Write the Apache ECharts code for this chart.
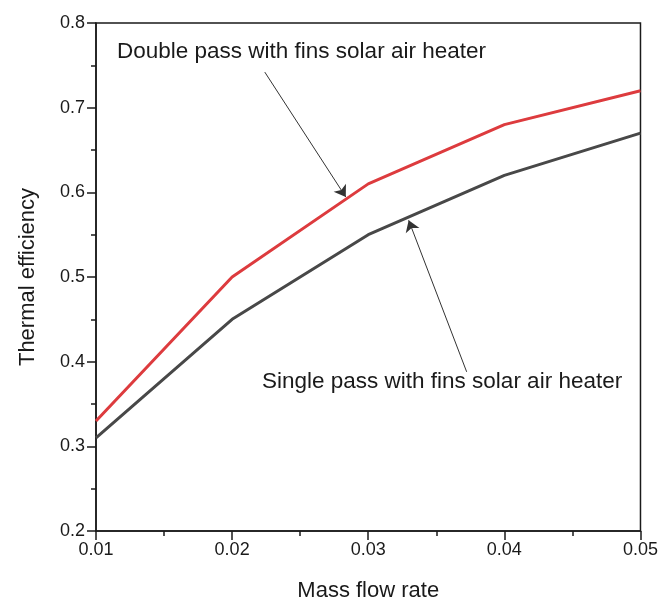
<!DOCTYPE html>
<html>
<head>
<meta charset="utf-8">
<script src="https://cdn.jsdelivr.net/npm/echarts@6/dist/echarts.min.js"></script>
<style>
html,body{margin:0;padding:0;background:#fff;}
#chart{width:661px;height:608px;}
</style>
</head>
<body>
<div id="chart"></div>
<script>
var massFlow = [0.01, 0.02, 0.03, 0.04, 0.05];
var doublePass = [0.33, 0.50, 0.61, 0.68, 0.72];
var singlePass = [0.31, 0.45, 0.55, 0.62, 0.67];
var xTicks = ['0.01', '0.02', '0.03', '0.04', '0.05'];
var yTicks = ['0.2', '0.3', '0.4', '0.5', '0.6', '0.7', '0.8'];
var doubleLabel = 'Double pass with fins solar air heater';
var singleLabel = 'Single pass with fins solar air heater';
var doubleArrow = [[0.0224, 0.742], [0.02835, 0.5945]];
var singleArrow = [[0.03723, 0.388], [0.03297, 0.567]];

var FONT = '"Liberation Sans", Arial, sans-serif';
var chart = echarts.init(document.getElementById('chart'), null, {renderer: 'canvas'});

function arrowLine(pts) {
  return {
    silent: true,
    symbol: ['none', 'arrow'],
    symbolSize: 11,
    label: {show: false},
    lineStyle: {color: '#333', width: 1, type: 'solid'},
    itemStyle: {color: '#111'},
    emphasis: {disabled: true},
    animation: false,
    data: [[{coord: pts[0]}, {coord: pts[1]}]]
  };
}

chart.setOption({
  animation: false,
  backgroundColor: '#fff',
  grid: {left: 96, right: 20, top: 23, bottom: 77, show: true, borderColor: '#1a1a1a', borderWidth: 1.5, containLabel: false},
  xAxis: {
    type: 'value', min: 0.01, max: 0.05, interval: 0.01,
    name: 'Mass flow rate', nameLocation: 'middle', nameGap: 49,
    nameTextStyle: {fontFamily: FONT, fontSize: 22, color: '#1a1a1a'},
    axisLine: {show: true, lineStyle: {color: '#1a1a1a', width: 1.5}},
    axisTick: {show: true, inside: false, length: 9, lineStyle: {color: '#1a1a1a', width: 1.5}},
    minorTick: {show: true, splitNumber: 2, length: 5, lineStyle: {color: '#1a1a1a', width: 1.5}},
    splitLine: {show: false},
    axisLabel: {fontFamily: FONT, fontSize: 18, color: '#1a1a1a', margin: 10,
      formatter: function (v) { var i = Math.round((v - 0.01) / 0.01); return xTicks[i] !== undefined ? xTicks[i] : ''; }}
  },
  yAxis: {
    type: 'value', min: 0.2, max: 0.8, interval: 0.1,
    name: 'Thermal efficiency', nameLocation: 'middle', nameGap: 57, nameRotate: 90,
    nameTextStyle: {fontFamily: FONT, fontSize: 22, color: '#1a1a1a'},
    axisLine: {show: true, lineStyle: {color: '#1a1a1a', width: 1.5}},
    axisTick: {show: true, inside: false, length: 9, lineStyle: {color: '#1a1a1a', width: 1.5}},
    minorTick: {show: true, splitNumber: 2, length: 5, lineStyle: {color: '#1a1a1a', width: 1.5}},
    splitLine: {show: false},
    axisLabel: {fontFamily: FONT, fontSize: 18, color: '#1a1a1a', margin: 11,
      formatter: function (v) { var i = Math.round((v - 0.2) / 0.1); return yTicks[i] !== undefined ? yTicks[i] : ''; }}
  },
  series: [
    {
      name: 'Double pass', type: 'line', showSymbol: false, symbol: 'none',
      data: massFlow.map(function (x, i) { return [x, doublePass[i]]; }),
      lineStyle: {color: '#dd3b3e', width: 3}, itemStyle: {color: '#dd3b3e'},
      markLine: arrowLine(doubleArrow), z: 3
    },
    {
      name: 'Single pass', type: 'line', showSymbol: false, symbol: 'none',
      data: massFlow.map(function (x, i) { return [x, singlePass[i]]; }),
      lineStyle: {color: '#484848', width: 3}, itemStyle: {color: '#484848'},
      markLine: arrowLine(singleArrow), z: 3
    }
  ],
  graphic: [
    {type: 'text', left: 117, top: 40, silent: true,
      style: {text: doubleLabel, font: '22.5px ' + FONT, fill: '#1a1a1a'}},
    {type: 'text', left: 262, top: 370, silent: true,
      style: {text: singleLabel, font: '22.5px ' + FONT, fill: '#1a1a1a'}}
  ]
});
</script>
</body>
</html>
